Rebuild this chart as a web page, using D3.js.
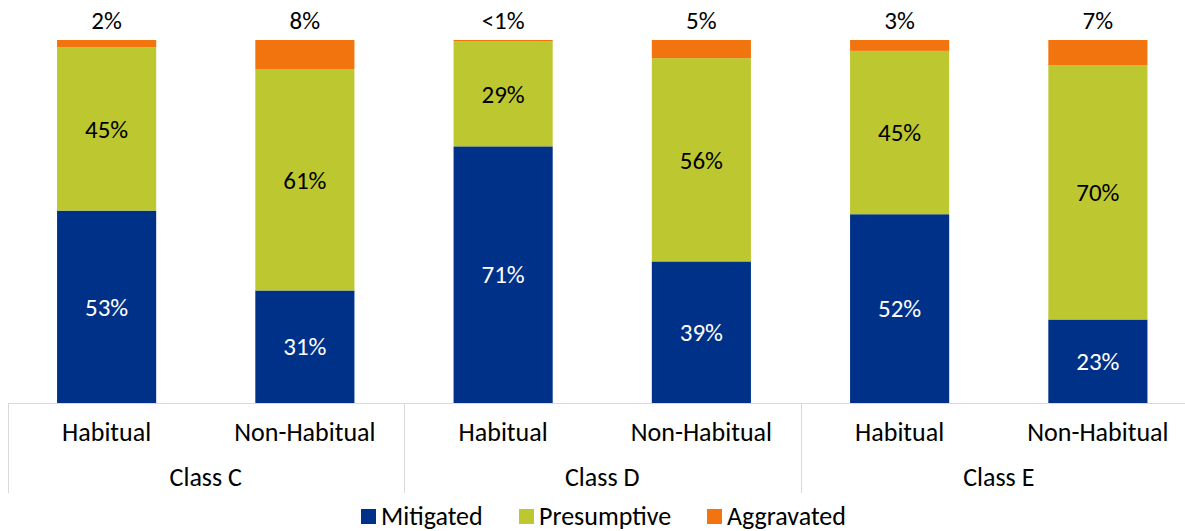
<!DOCTYPE html>
<html><head><meta charset="utf-8">
<script src="https://cdn.jsdelivr.net/npm/d3@7"></script>
<style>body{margin:0;background:#fff}svg{display:block}</style>
</head><body>
<svg id="c" width="1185" height="531"></svg>
<script>
const classes = ["Class C","Class D","Class E"];
const types = ["Habitual","Non-Habitual"];
const seriesNames = ["Mitigated","Presumptive","Aggravated"];
const mitigated   = [53, 31, 70.7, 39, 52, 23];
const presumptive = [45, 61, 28.9, 56, 45, 70];
const aggravated  = [2, 8, 0.4, 5, 3, 7];
const colors = ["#003189","#BDC730","#F1740F"];

(function(){
const svg = d3.select("#c");
const font = "Carlito, Calibri, Lato, 'Open Sans', sans-serif";
const pL = 7.5, pR = 1197, pT = 40, pB = 403;

const cats = [];
classes.forEach(c => types.forEach(t => cats.push(c + "|" + t)));
const rows = cats.map((k,i)=>({key:k, Mitigated:mitigated[i], Presumptive:presumptive[i], Aggravated:aggravated[i]}));

const x = d3.scaleBand().domain(cats).range([pL,pR]).paddingInner(0.5).paddingOuter(0.25);
const y = d3.scaleLinear().domain([0,100]).range([pB,pT]);
const stack = d3.stack().keys(seriesNames)(rows);

const fmt = v => v < 1 ? "<1%" : Math.round(v) + "%";

stack.forEach((s,si)=>{
  const g = svg.append("g");
  g.selectAll("rect").data(s).join("rect")
    .attr("x", d=>x(d.data.key)).attr("width", x.bandwidth())
    .attr("y", d=>y(d[1])).attr("height", d=>Math.max(0,y(d[0])-y(d[1])))
    .attr("fill", colors[si]);
  g.selectAll("text").data(s).join("text")
    .attr("x", d=>x(d.data.key)+x.bandwidth()/2)
    .attr("y", d=> si===2 ? 20 : (y(d[0])+y(d[1]))/2)
    .attr("dy","0.35em")
    .attr("text-anchor","middle")
    .attr("font-family",font).attr("font-size",25)
    .attr("fill", si===0 ? "#fff" : "#000")
    .text(d=>fmt(d[1]-d[0]));
});

svg.append("line").attr("x1",8).attr("x2",1185).attr("y1",pB+0.5).attr("y2",pB+0.5)
  .attr("stroke","#d9d9d9").attr("stroke-width",1);
const groupW = (pR-pL)/classes.length;
d3.range(classes.length+1).forEach(i=>{
  const xx = Math.round(pL + i*groupW)+0.5;
  svg.append("line").attr("x1",xx).attr("x2",xx).attr("y1",pB).attr("y2",493)
    .attr("stroke","#d9d9d9").attr("stroke-width",1);
});
svg.append("g").selectAll("text").data(cats).join("text")
  .attr("x", d=>x(d)+x.bandwidth()/2).attr("y",432).attr("dy","0.35em")
  .attr("text-anchor","middle").attr("font-family",font).attr("font-size",26).attr("fill","#000")
  .text(d=>d.split("|")[1]);
svg.append("g").selectAll("text").data(classes).join("text")
  .attr("x",(d,i)=>pL+(i+0.5)*groupW).attr("y",477).attr("dy","0.35em")
  .attr("text-anchor","middle").attr("font-family",font).attr("font-size",26).attr("fill","#000")
  .text(d=>d);

const legX = [361, 519, 707];
const lg = svg.append("g").selectAll("g").data(seriesNames).join("g")
  .attr("transform",(d,i)=>`translate(${legX[i]},516)`);
lg.append("rect").attr("x",0).attr("y",-7).attr("width",15).attr("height",15).attr("fill",(d,i)=>colors[i]);
lg.append("text").attr("x",20).attr("y",0).attr("dy","0.35em").attr("font-family",font).attr("font-size",26).attr("fill","#000").text(d=>d);
})();
</script>
</body></html>
